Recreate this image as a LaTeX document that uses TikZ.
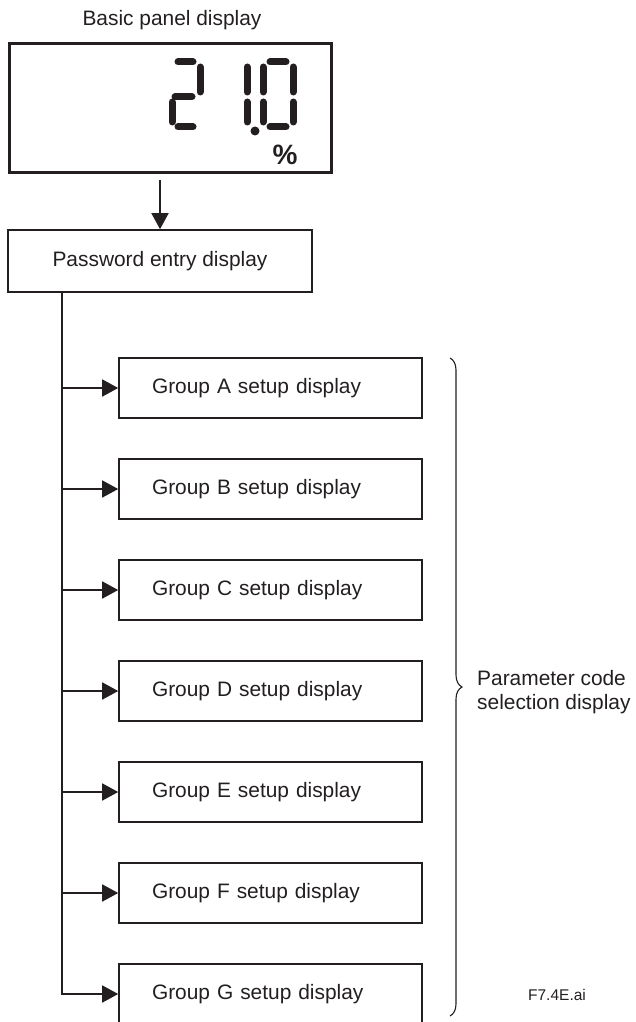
\documentclass[tikz,border=0pt]{standalone}
\usepackage{fontspec}
\setmainfont{Liberation Sans}
\usetikzlibrary{arrows.meta,positioning,calc,decorations.pathreplacing}
\definecolor{inkgray}{RGB}{35,31,32}

\begin{document}
\begin{tikzpicture}[x=1pt,y=-1pt,inkgray,font=\fontsize{20.9}{24}\selectfont,
  panel/.style={draw,line width=3pt,minimum width=322pt,minimum height=128pt,inner sep=0pt},
  box/.style={draw,line width=1.6pt,minimum width=303pt,minimum height=60pt,inner sep=0pt},
  grp/.style={box,text width=237pt,inner xsep=33pt,align=left},
  seg/.style={line width=7pt,line cap=round},
  arr/.style={-{Triangle[length=16pt,width=17pt]},line width=1.6pt}]
\useasboundingbox (0,0) rectangle (635,1022);
% panel with the seven-segment reading
\node (title) at (172,20) {Basic panel display};
\node[panel] (basic) at (170,108) {};
\draw[seg] (178,62)--(193,62) (200,67)--(200,92) (175,97)--(192,97) (172,102)--(172,122) (178,127)--(193,127);
\draw[seg] (247,67)--(247,92) (247,102)--(247,122);
\fill (255,131) circle (4.5pt);
\draw[seg] (270,62)--(286,62) (263,67)--(263,92) (263,102)--(263,122) (293,67)--(293,92) (293,102)--(293,122) (270,127)--(286,127);
\node[font=\fontsize{28}{30}\selectfont\bfseries] (pct) at (285,155) {\%};
% password and group displays
\node[box,minimum width=304pt,minimum height=62pt] (pwd) at (160,261) {Password entry display};
\node[grp] (grpA) at (270.5,388) {Group A setup display};
\node[grp,below=39.4pt of grpA] (grpB) {Group B setup display};
\node[grp,below=39.4pt of grpB] (grpC) {Group C setup display};
\node[grp,below=39.4pt of grpC] (grpD) {Group D setup display};
\node[grp,below=39.4pt of grpD] (grpE) {Group E setup display};
\node[grp,below=39.4pt of grpE] (grpF) {Group F setup display};
\node[grp,below=39.4pt of grpF] (grpG) {Group G setup display};
\draw[arr,shorten <=6pt] (pwd.north |- basic.south) -- (pwd.north);
\coordinate (trunk) at ($(pwd.south west)+(55,0)$);
\draw[arr] (trunk) |- (grpG.west);
\draw[arr] (trunk |- grpA.west) -- (grpA.west);
\draw[arr] (trunk |- grpB.west) -- (grpB.west);
\draw[arr] (trunk |- grpC.west) -- (grpC.west);
\draw[arr] (trunk |- grpD.west) -- (grpD.west);
\draw[arr] (trunk |- grpE.west) -- (grpE.west);
\draw[arr] (trunk |- grpF.west) -- (grpF.west);
% brace and its label
\coordinate (brT) at (450,358);
\coordinate (brB) at (450,1016);
\draw[line width=1.1pt,decorate,decoration={brace,amplitude=12pt}] (brT) -- (brB);
\node[anchor=west,align=left,inner sep=0pt] (parlbl) at (477,692) {Parameter code\\selection display};
\node[font=\fontsize{15.5}{18}\selectfont] (figno) at (557,995) {F7.4E.ai};
\end{tikzpicture}
\end{document}
